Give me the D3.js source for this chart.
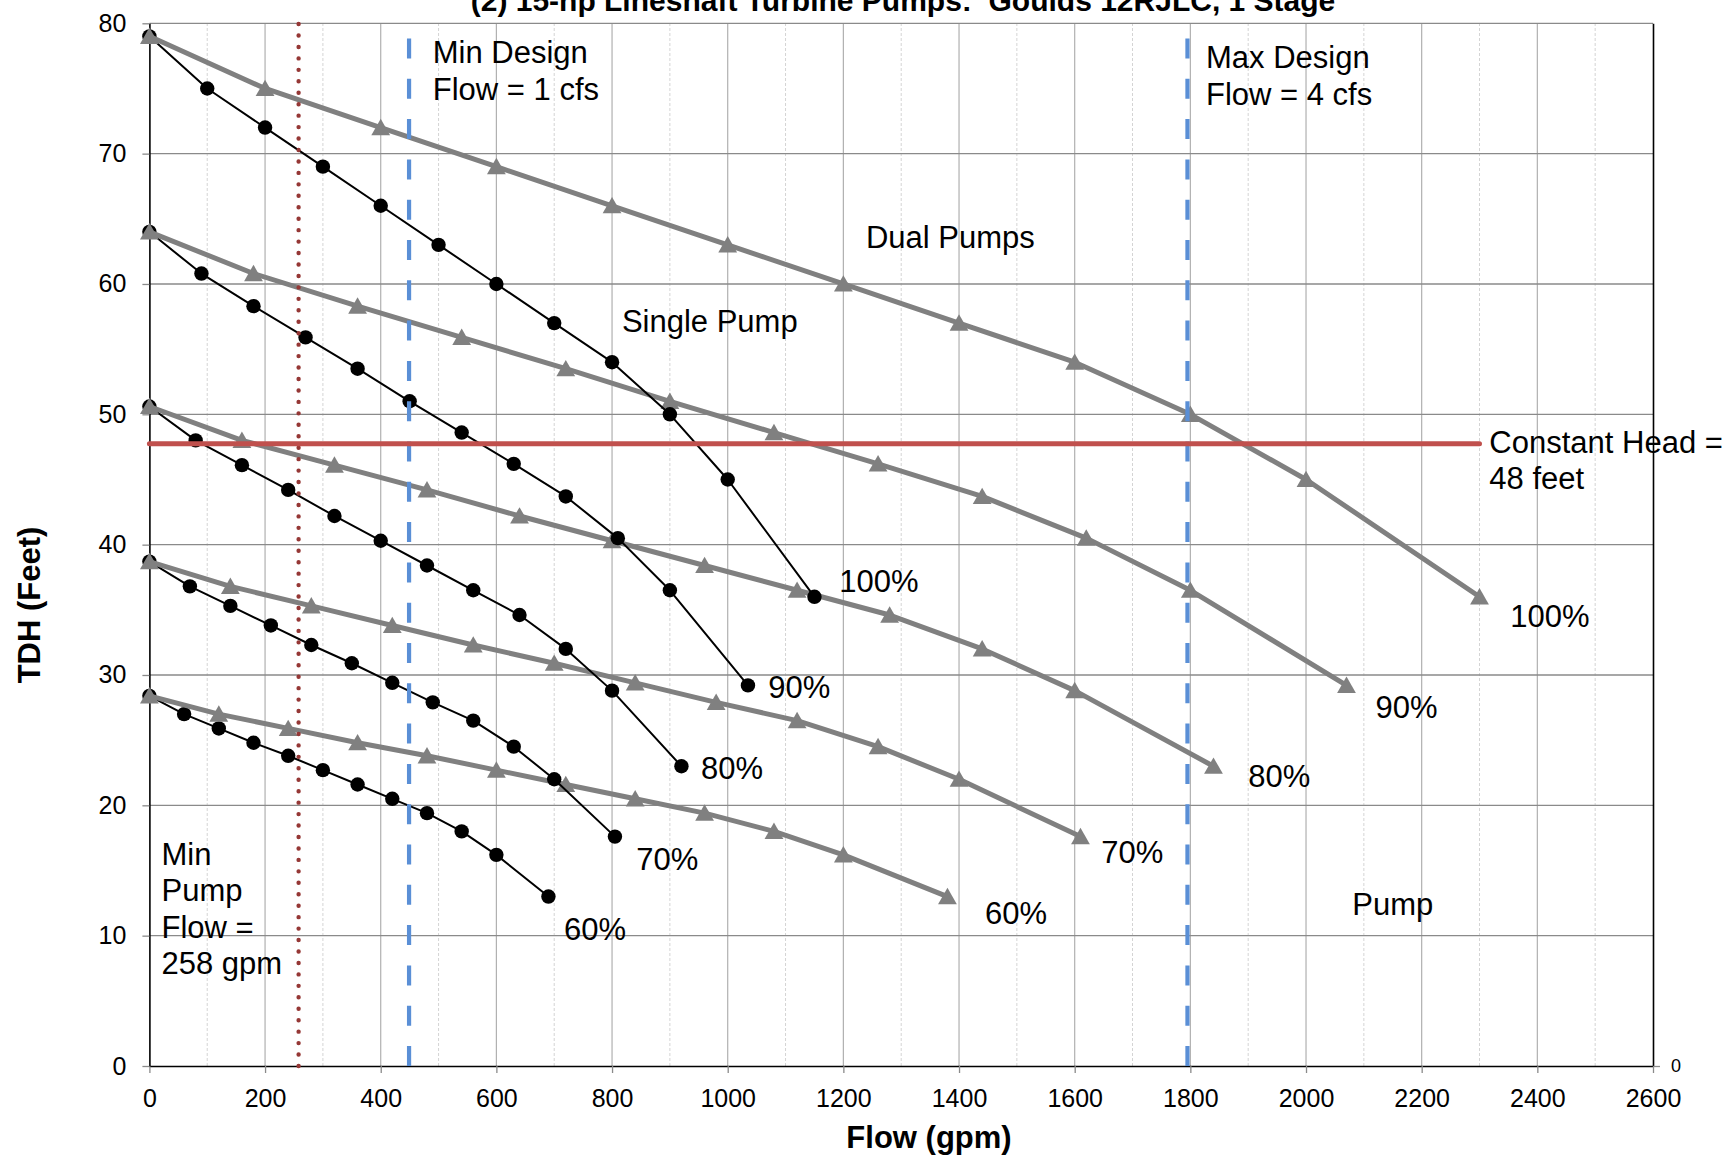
<!DOCTYPE html>
<html>
<head>
<meta charset="utf-8">
<script src="https://cdn.jsdelivr.net/npm/d3@7"></script>
<style>
  html, body { margin: 0; padding: 0; background: #fff; }
  svg { display: block; }
  text { font-family: "Liberation Sans", Arial, sans-serif; fill: #000; }
</style>
</head>
<body>
<svg id="chart" width="1735" height="1157"></svg>
<script>
// ---------------- data ----------------
const chartTitle = "(2) 15-hp Lineshaft Turbine Pumps:  Goulds 12RJLC, 1 Stage";
const xTitle = "Flow (gpm)";
const yTitle = "TDH (Feet)";
const xTicks = [0, 200, 400, 600, 800, 1000, 1200, 1400, 1600, 1800, 2000, 2200, 2400, 2600];
const yTicks = [0, 10, 20, 30, 40, 50, 60, 70, 80];
const speeds = ["60%", "70%", "80%", "90%", "100%"];

// single pump curves (flow gpm / head ft)
const singleFlow60  = [0, 60, 120, 180, 240, 300, 360, 420, 480, 540, 600, 690];
const singleHead60  = [28.4, 27, 25.9, 24.8, 23.8, 22.7, 21.6, 20.5, 19.4, 18, 16.2, 13];
const singleFlow70  = [0, 70, 140, 210, 280, 350, 420, 490, 560, 630, 700, 805];
const singleHead70  = [38.7, 36.8, 35.3, 33.8, 32.3, 30.9, 29.4, 27.9, 26.5, 24.5, 22, 17.6];
const singleFlow80  = [0, 80, 160, 240, 320, 400, 480, 560, 640, 720, 800, 920];
const singleHead80  = [50.6, 48, 46.1, 44.2, 42.2, 40.3, 38.4, 36.5, 34.6, 32, 28.8, 23];
const singleFlow90  = [0, 90, 180, 270, 360, 450, 540, 630, 720, 810, 900, 1035];
const singleHead90  = [64, 60.8, 58.3, 55.9, 53.5, 51, 48.6, 46.2, 43.7, 40.5, 36.5, 29.2];
const singleFlow100 = [0, 100, 200, 300, 400, 500, 600, 700, 800, 900, 1000, 1150];
const singleHead100 = [79, 75, 72, 69, 66, 63, 60, 57, 54, 50, 45, 36];

// dual pump curves (flow gpm / head ft)
const dualFlow60  = [0, 120, 240, 360, 480, 600, 720, 840, 960, 1080, 1200, 1380];
const dualHead60  = [28.4, 27, 25.9, 24.8, 23.8, 22.7, 21.6, 20.5, 19.4, 18, 16.2, 13];
const dualFlow70  = [0, 140, 280, 420, 560, 700, 840, 980, 1120, 1260, 1400, 1610];
const dualHead70  = [38.7, 36.8, 35.3, 33.8, 32.3, 30.9, 29.4, 27.9, 26.5, 24.5, 22, 17.6];
const dualFlow80  = [0, 160, 320, 480, 640, 800, 960, 1120, 1280, 1440, 1600, 1840];
const dualHead80  = [50.6, 48, 46.1, 44.2, 42.2, 40.3, 38.4, 36.5, 34.6, 32, 28.8, 23];
const dualFlow90  = [0, 180, 360, 540, 720, 900, 1080, 1260, 1440, 1620, 1800, 2070];
const dualHead90  = [64, 60.8, 58.3, 55.9, 53.5, 51, 48.6, 46.2, 43.7, 40.5, 36.5, 29.2];
const dualFlow100 = [0, 200, 400, 600, 800, 1000, 1200, 1400, 1600, 1800, 2000, 2300];
const dualHead100 = [79, 75, 72, 69, 66, 63, 60, 57, 54, 50, 45, 36];

// reference lines
const minPumpFlow = 258;          // gpm
const minDesignFlow = 449;        // 1 cfs in gpm
const maxDesignFlow = 1795;       // 4 cfs in gpm
const constantHead = 47.75;       // ft
const constantHeadFlowRange = [0, 2300];

// annotation text, anchored at [flow, head] (left / baseline of first line)
const annotations = [
  { lines: ["Min Design", "Flow = 1 cfs"], at: [490, 76.95] },
  { lines: ["Max Design", "Flow = 4 cfs"], at: [1827, 76.55] },
  { lines: ["Dual Pumps"], at: [1239, 62.75] },
  { lines: ["Single Pump"], at: [817, 56.35] },
  { lines: ["Constant Head =", "48 feet"], at: [2317, 47.05] },
  { lines: ["100%"], at: [1193, 36.4] },
  { lines: ["90%"], at: [1070, 28.25] },
  { lines: ["80%"], at: [954, 22.05] },
  { lines: ["70%"], at: [842, 15.05] },
  { lines: ["60%"], at: [717, 9.65] },
  { lines: ["100%"], at: [2353, 33.7] },
  { lines: ["90%"], at: [2120, 26.7] },
  { lines: ["80%"], at: [1900, 21.4] },
  { lines: ["70%"], at: [1646, 15.6] },
  { lines: ["60%"], at: [1445, 10.9] },
  { lines: ["Pump"], at: [2080, 11.6] },
  { lines: ["Min", "Pump", "Flow =", "258 gpm"], at: [21, 15.45] }
];

// ---------------- drawing ----------------
const svg = d3.select("#chart");
const W = 1735, H = 1157;
const margin = { left: 149.4, right: 82, top: 23.3, bottom: 91 };

const x = d3.scaleLinear().domain([0, 2600]).range([margin.left, W - margin.right]);
const y = d3.scaleLinear().domain([0, 80]).range([H - margin.bottom, margin.top]);

const singleSeries = [
  { flow: singleFlow60, head: singleHead60 },
  { flow: singleFlow70, head: singleHead70 },
  { flow: singleFlow80, head: singleHead80 },
  { flow: singleFlow90, head: singleHead90 },
  { flow: singleFlow100, head: singleHead100 }
];
const dualSeries = [
  { flow: dualFlow60, head: dualHead60 },
  { flow: dualFlow70, head: dualHead70 },
  { flow: dualFlow80, head: dualHead80 },
  { flow: dualFlow90, head: dualHead90 },
  { flow: dualFlow100, head: dualHead100 }
];

// gridlines
const grid = svg.append("g");
const minorX = d3.range(100, 2600, 200);
grid.selectAll("line.minx").data(minorX).join("line")
  .attr("x1", d => x(d)).attr("x2", d => x(d))
  .attr("y1", y(0)).attr("y2", y(80))
  .attr("stroke", "#d4d4d4").attr("stroke-width", 1).attr("stroke-dasharray", "3,2");
grid.selectAll("line.majx").data(xTicks.filter(d => d > 0 && d < 2600)).join("line")
  .attr("x1", d => x(d)).attr("x2", d => x(d))
  .attr("y1", y(0)).attr("y2", y(80))
  .attr("stroke", "#b0b0b0").attr("stroke-width", 1.2);
grid.selectAll("line.majy").data(yTicks.filter(d => d > 0)).join("line")
  .attr("x1", x(0)).attr("x2", x(2600))
  .attr("y1", d => y(d)).attr("y2", d => y(d))
  .attr("stroke", "#8a8a8a").attr("stroke-width", 1.3);

// axes
const fontTick = 25;
const fmt = d3.format("d");
const xAxis = svg.append("g").attr("transform", `translate(0,${y(0)})`)
  .call(d3.axisBottom(x).tickValues(xTicks).tickFormat(fmt).tickSize(7).tickSizeOuter(0).tickPadding(16));
xAxis.select(".domain").attr("stroke", "#000").attr("stroke-width", 1.6);
xAxis.selectAll(".tick line").attr("stroke", "#8a8a8a").attr("stroke-width", 1.3);
xAxis.selectAll(".tick text").attr("font-size", fontTick).attr("font-family", "Liberation Sans, Arial, sans-serif").attr("fill", "#000");

const yAxis = svg.append("g").attr("transform", `translate(${x(0)},0)`)
  .call(d3.axisLeft(y).tickValues(yTicks).tickFormat(fmt).tickSize(7).tickSizeOuter(0).tickPadding(16));
yAxis.select(".domain").attr("stroke", "#000").attr("stroke-width", 1.6);
yAxis.selectAll(".tick line").attr("stroke", "#8a8a8a").attr("stroke-width", 1.3);
yAxis.selectAll(".tick text").attr("font-size", fontTick).attr("font-family", "Liberation Sans, Arial, sans-serif").attr("fill", "#000");

const yAxisR = svg.append("g").attr("transform", `translate(${x(2600)},0)`)
  .call(d3.axisRight(y).tickValues([0]).tickFormat(fmt).tickSize(7).tickSizeOuter(0).tickPadding(11));
yAxisR.select(".domain").attr("stroke", "#000").attr("stroke-width", 1.6);
yAxisR.selectAll(".tick line").attr("stroke", "#8a8a8a").attr("stroke-width", 1.3);
yAxisR.selectAll(".tick text").attr("font-size", 18).attr("font-family", "Liberation Sans, Arial, sans-serif").attr("fill", "#000");

// series
const line = d3.line().x(d => x(d[0])).y(d => y(d[1]));
const triPath = "M0,-8.8L9.4,7.6L-9.4,7.6Z";
const plot = svg.append("g");
speeds.forEach((s, i) => {
  const sp = singleSeries[i].flow.map((f, k) => [f, singleSeries[i].head[k]]);
  const g1 = plot.append("g");
  g1.append("path").attr("d", line(sp)).attr("fill", "none")
    .attr("stroke", "#000").attr("stroke-width", 2).attr("stroke-linejoin", "round");
  g1.selectAll("circle").data(sp).join("circle")
    .attr("cx", d => x(d[0])).attr("cy", d => y(d[1])).attr("r", 7.2).attr("fill", "#000");

  const dp = dualSeries[i].flow.map((f, k) => [f, dualSeries[i].head[k]]);
  const g2 = plot.append("g");
  g2.append("path").attr("d", line(dp)).attr("fill", "none")
    .attr("stroke", "#808080").attr("stroke-width", 5).attr("stroke-linejoin", "round");
  g2.selectAll("path.tri").data(dp).join("path").attr("class", "tri")
    .attr("d", triPath)
    .attr("transform", d => `translate(${x(d[0])},${y(d[1])})`)
    .attr("fill", "#808080");
});

// vertical reference lines (drawn from bottom to top)
[minDesignFlow, maxDesignFlow].forEach(f => {
  svg.append("line")
    .attr("x1", x(f)).attr("x2", x(f)).attr("y1", y(0)).attr("y2", y(80))
    .attr("stroke", "#5a8fd6").attr("stroke-width", 4.2)
    .attr("stroke-dasharray", "20,20.3");
});
svg.append("line")
  .attr("x1", x(minPumpFlow)).attr("x2", x(minPumpFlow)).attr("y1", y(0)).attr("y2", y(80))
  .attr("stroke", "#953735").attr("stroke-width", 4.4)
  .attr("stroke-linecap", "round").attr("stroke-dasharray", "0.01,11.44");

// constant head line
svg.append("line")
  .attr("x1", x(constantHeadFlowRange[0])).attr("x2", x(constantHeadFlowRange[1]))
  .attr("y1", y(constantHead)).attr("y2", y(constantHead))
  .attr("stroke", "#c0504d").attr("stroke-width", 5).attr("stroke-linecap", "round");

// annotations
const ann = svg.append("g");
annotations.forEach(a => {
  const t = ann.append("text")
    .attr("x", x(a.at[0])).attr("y", y(a.at[1]))
    .attr("font-size", 31);
  a.lines.forEach((ln, k) => {
    t.append("tspan").attr("x", x(a.at[0])).attr("dy", k === 0 ? 0 : 36.5).text(ln);
  });
});

// titles
svg.append("text")
  .attr("x", 903).attr("y", 11)
  .attr("text-anchor", "middle")
  .attr("font-size", 30).attr("font-weight", "bold")
  .style("white-space", "pre")
  .text(chartTitle);

svg.append("text")
  .attr("x", 929).attr("y", 1148)
  .attr("text-anchor", "middle")
  .attr("font-size", 31).attr("font-weight", "bold")
  .text(xTitle);

svg.append("text")
  .attr("transform", "translate(40,605) rotate(-90)")
  .attr("text-anchor", "middle")
  .attr("font-size", 31).attr("font-weight", "bold")
  .text(yTitle);
</script>
</body>
</html>
